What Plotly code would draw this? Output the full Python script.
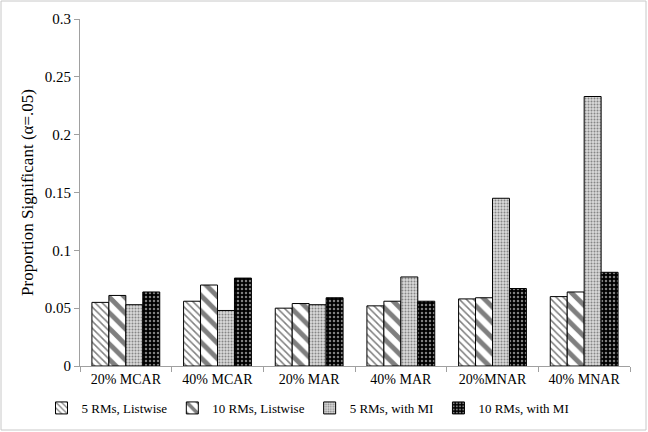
import plotly.graph_objects as go

categories = ["20% MCAR", "40% MCAR", "20% MAR", "40% MAR", "20%MNAR", "40% MNAR"]
series_names = ["5 RMs, Listwise", "10 RMs, Listwise", "5 RMs, with MI", "10 RMs, with MI"]
rm5_listwise = [0.055, 0.056, 0.050, 0.052, 0.058, 0.060]
rm10_listwise = [0.061, 0.070, 0.054, 0.056, 0.059, 0.064]
rm5_mi = [0.053, 0.048, 0.053, 0.077, 0.145, 0.233]
rm10_mi = [0.064, 0.076, 0.059, 0.056, 0.067, 0.081]
y_ticks = [0, 0.05, 0.1, 0.15, 0.2, 0.25, 0.3]
y_tick_labels = ["0", "0.05", "0.1", "0.15", "0.2", "0.25", "0.3"]

patterns = [
    dict(shape="\\", bgcolor="white", fgcolor="black", size=5, solidity=0.3),
    dict(shape="\\", bgcolor="white", fgcolor="black", size=11, solidity=0.45),
    dict(shape=".", bgcolor="#d8d8d8", fgcolor="#333333", size=3, solidity=0.35),
    dict(shape=".", bgcolor="black", fgcolor="white", size=4, solidity=0.3, fillmode="overlay"),
]
values = [rm5_listwise, rm10_listwise, rm5_mi, rm10_mi]

fig = go.Figure()
for name, vals, pat in zip(series_names, values, patterns):
    fig.add_trace(go.Bar(
        x=categories, y=vals, name=name,
        marker=dict(color="white", line=dict(color="black", width=1), pattern=pat),
    ))

fig.update_layout(
    width=648, height=432,
    margin=dict(l=80, r=18, t=19, b=66, autoexpand=False),
    paper_bgcolor="white", plot_bgcolor="white",
    font=dict(family="Liberation Serif, Times New Roman, serif", color="black", size=14),
    barmode="group", bargap=0.26, bargroupgap=0,
    showlegend=True,
    legend=dict(orientation="h", x=-0.07, xanchor="left", y=-0.121, yanchor="middle",
                font=dict(size=13), itemwidth=30, traceorder="normal", tracegroupgap=0),
    xaxis=dict(showline=True, linecolor="#a0a0a0", linewidth=1, ticks="outside",
               tickson="boundaries", ticklen=5, tickcolor="#a0a0a0",
               tickfont=dict(size=14), showgrid=False, automargin=False),
    yaxis=dict(range=[0, 0.3], tickvals=y_ticks, ticktext=y_tick_labels,
               showline=True, linecolor="#a0a0a0", linewidth=1, ticks="outside",
               ticklen=5, tickcolor="#a0a0a0", showgrid=False, zeroline=False,
               tickfont=dict(size=15), automargin=False,
               title=dict(text="Proportion Significant (α=.05)", font=dict(size=17), standoff=6)),
)

fig.add_shape(type="rect", xref="paper", yref="paper",
              x0=(1 - 80) / 550, x1=(646 - 80) / 550,
              y0=(366 - 430) / 347, y1=(366 - 1) / 347,
              line=dict(color="#c8c8c8", width=1), fillcolor="rgba(0,0,0,0)", layer="below")

fig.write_html("out.html")
